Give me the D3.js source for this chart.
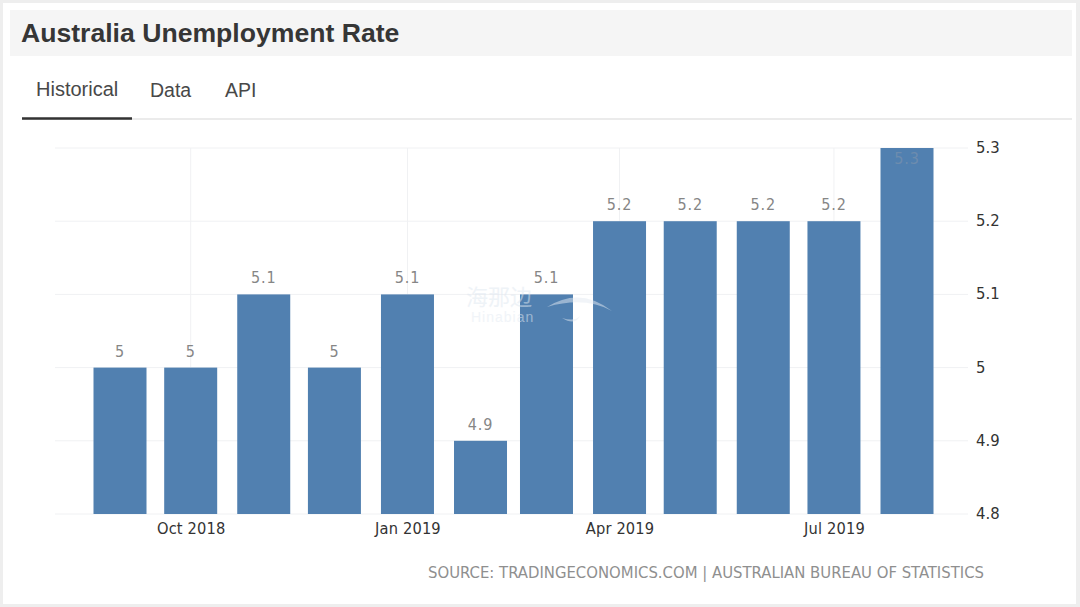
<!DOCTYPE html>
<html><head><meta charset="utf-8">
<script src="https://cdn.jsdelivr.net/npm/d3@7"></script>
<style>html,body{margin:0;padding:0;background:#fff;overflow:hidden}svg{display:block}</style>
</head><body><svg id="c" width="1080" height="607"></svg>
<script>
const months = ["2018-09-01","2018-10-01","2018-11-01","2018-12-01","2019-01-01","2019-02-01","2019-03-01","2019-04-01","2019-05-01","2019-06-01","2019-07-01","2019-08-01"];
const rates = [5,5,5.1,5,5.1,4.9,5.1,5.2,5.2,5.2,5.2,5.3];
const yTicks = [4.8,4.9,5,5.1,5.2,5.3];
const xTickDates = ["2018-10-01","2019-01-01","2019-04-01","2019-07-01"];
const tabs = ["Historical","Data","API"];
const title = "Australia Unemployment Rate";
const source = "SOURCE: TRADINGECONOMICS.COM | AUSTRALIAN BUREAU OF STATISTICS";

const svg = d3.select("#c");
const parse = d3.utcParse("%Y-%m-%d");
const x = d3.scaleUtc().domain([parse(months[0]), parse(months[11])]).range([120,907]);
const y = d3.scaleLinear().domain([4.8,5.3]).range([514,148]);
const sans = "'Liberation Sans',Arial,sans-serif";
const chartFont = "'DejaVu Sans Condensed','DejaVu Sans',sans-serif";

// card
svg.append("rect").attr("width",1080).attr("height",607).attr("fill","#eeeeee");
svg.append("rect").attr("x",3).attr("y",3).attr("width",1073).attr("height",601).attr("fill","#fff");
svg.append("rect").attr("x",10).attr("y",10).attr("width",1062).attr("height",46).attr("fill","#f5f5f5");
svg.append("text").attr("x",21).attr("y",42).attr("font-family",sans).attr("font-weight",700).attr("font-size",26.6).attr("fill","#363636").text(title);

// tabs
const tabX = [36,150,225];
svg.selectAll(".tab").data(tabs).join("text").attr("class","tab")
  .attr("x",(d,i)=>tabX[i]).attr("y",(d,i)=>i===0?96:97).attr("font-family",sans).attr("font-size",(d,i)=>i===0?20:19.5)
  .attr("fill","#484848").text(d=>d);
svg.append("line").attr("x1",22).attr("x2",1072).attr("y1",119).attr("y2",119).attr("stroke","#e4e4e4").attr("stroke-width",1.5);
svg.append("line").attr("x1",22).attr("x2",132).attr("y1",118.5).attr("y2",118.5).attr("stroke","#333").attr("stroke-width",2.4);

// grid
const grid = svg.append("g");
grid.selectAll(".h").data(yTicks).join("line").attr("x1",55).attr("x2",968)
  .attr("y1",d=>y(d)).attr("y2",d=>y(d)).attr("stroke","#f0f1f3").attr("stroke-width",1);
grid.selectAll(".v").data(xTickDates).join("line")
  .attr("x1",d=>x(parse(d))).attr("x2",d=>x(parse(d))).attr("y1",148).attr("y2",514).attr("stroke","#f0f1f3");

// bars
const barW = 53;
svg.append("g").selectAll("rect").data(months).join("rect")
  .attr("x",d=>x(parse(d))-barW/2).attr("width",barW)
  .attr("y",(d,i)=>y(rates[i])).attr("height",(d,i)=>y(4.8)-y(rates[i]))
  .attr("fill","#5180b0");

// value labels
const fmt = v => String(v);
svg.append("g").selectAll("text").data(months).join("text")
  .attr("x",d=>x(parse(d))).attr("y",(d,i)=>i===11?y(rates[i])+16:y(rates[i])-11)
  .attr("text-anchor","middle").attr("font-family",chartFont).attr("font-size",16).attr("letter-spacing",0.9)
  .attr("fill",(d,i)=>i===11?"#6d8cae":"#868686").text((d,i)=>fmt(rates[i]));

// axes
const yAxis = d3.axisRight(y).tickValues(yTicks).tickSize(0).tickPadding(0).tickFormat(fmt);
const gy = svg.append("g").attr("transform","translate(976,-0.7)").call(yAxis);
gy.select(".domain").remove();
gy.selectAll("text").attr("font-family",chartFont).attr("font-size",16.5).attr("fill","#333").attr("dy","0.32em");

const xAxis = d3.axisBottom(x).tickValues(xTickDates.map(parse)).tickSize(0).tickPadding(0).tickFormat(d3.utcFormat("%b %Y"));
const gx = svg.append("g").attr("transform","translate(0,522)").call(xAxis);
gx.select(".domain").remove();
gx.selectAll("text").attr("font-family",chartFont).attr("font-size",16.3).attr("letter-spacing",0.15).attr("fill","#333").attr("dy","0.71em");

// source
svg.append("text").attr("x",984).attr("y",578).attr("text-anchor","end").attr("font-family",chartFont)
  .attr("font-size",16.5).attr("fill","#8f8f8f").attr("textLength",556).attr("lengthAdjust","spacingAndGlyphs").text(source);

// watermark
const wm = svg.append("g").attr("opacity",0.5);
wm.append("text").attr("x",466).attr("y",305).attr("font-family","'Noto Sans CJK SC'").attr("font-size",22).attr("fill","#dfe8f1").text("海那边");
wm.append("text").attr("x",471).attr("y",322).attr("font-family",sans).attr("font-size",14).attr("letter-spacing",1).attr("fill","#e4ebf3").text("Hinabian");
wm.append("path").attr("d","M547 307Q580 286 612 311Q585 296 547 307Z").attr("fill","#e4ebf3");
wm.append("path").attr("d","M562 318Q575 322 580 316Q575 326 562 318Z").attr("fill","#e4ebf3");
</script></body></html>
